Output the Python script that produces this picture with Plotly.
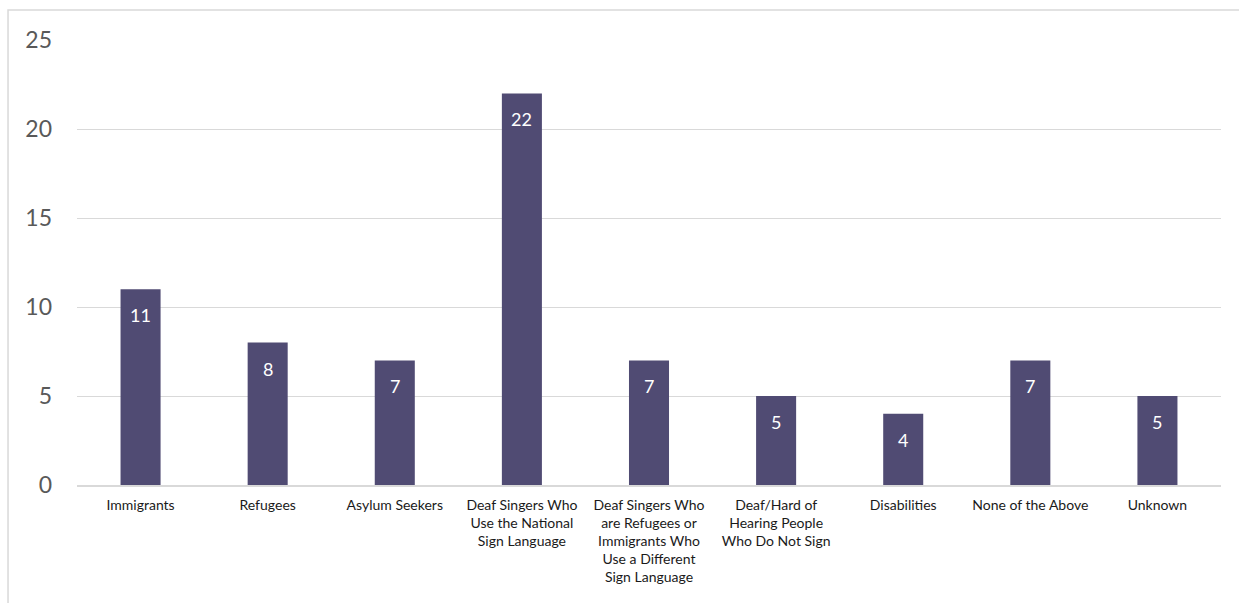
import plotly.graph_objects as go

categories = [
    "Immigrants",
    "Refugees",
    "Asylum Seekers",
    "Deaf Singers Who<br>Use the National<br>Sign Language",
    "Deaf Singers Who<br>are Refugees or<br>Immigrants Who<br>Use a Different<br>Sign Language",
    "Deaf/Hard of<br>Hearing People<br>Who Do Not Sign",
    "Disabilities",
    "None of the Above",
    "Unknown",
]
counts = [11, 8, 7, 22, 7, 5, 4, 7, 5]
y_ticks = [0, 5, 10, 15, 20, 25]

BAR_COLOR = "#504B73"
GRID_COLOR = "#D9D9D9"
FONT = "Lato, 'Open Sans', sans-serif"

fig = go.Figure()
fig.add_trace(go.Bar(
    x=categories,
    y=counts,
    marker=dict(color=BAR_COLOR, line=dict(width=0)),
    hoverinfo="x+y",
))

# value labels sit just inside the top of each bar
for cat, val in zip(categories, counts):
    fig.add_annotation(
        x=cat, y=val, text=str(val), showarrow=False,
        yanchor="middle", yshift=-26,
        font=dict(family=FONT, size=18, color="white"),
    )

# light frame around the chart area
fig.add_shape(
    type="rect", xref="paper", yref="paper",
    x0=-0.0603, x1=1.2, y0=-0.6, y1=1.0674,
    line=dict(color=GRID_COLOR, width=1.5), fillcolor="rgba(0,0,0,0)",
    layer="below",
)

fig.update_layout(
    width=1239, height=603,
    margin=dict(l=77, r=18, t=40, b=118),
    paper_bgcolor="white", plot_bgcolor="white",
    bargap=0.685,
    showlegend=False,
    font=dict(family=FONT),
)
fig.update_yaxes(
    range=[0, 25], tickvals=y_ticks,
    showgrid=True, gridcolor=GRID_COLOR, gridwidth=1.3,
    zeroline=False, showline=False,
    tickfont=dict(family=FONT, size=23, color="#595959"),
    ticklabelstandoff=24,
)
fig.update_xaxes(
    showline=True, linecolor=GRID_COLOR, linewidth=1.5,
    tickfont=dict(family=FONT, size=14, color="#1a1a1a"),
    tickangle=0,
    ticklabelstandoff=6,
)

fig.write_html("out.html")
